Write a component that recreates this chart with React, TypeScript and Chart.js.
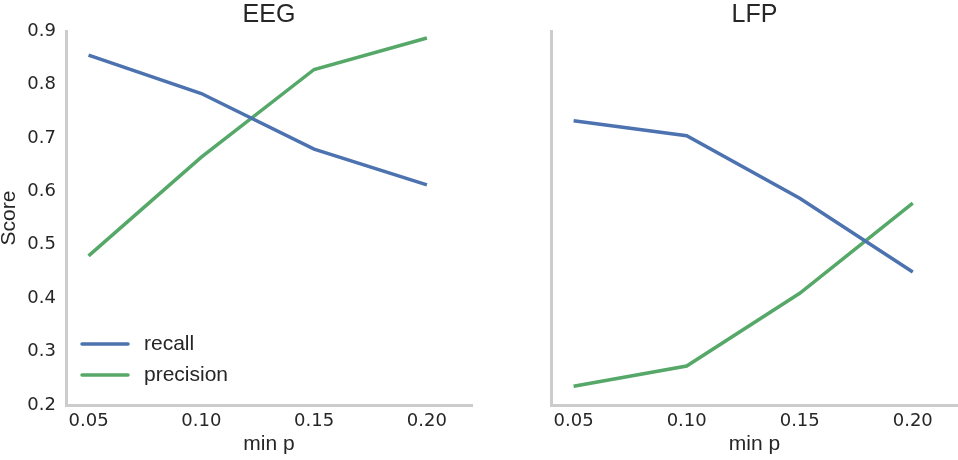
import React, { useEffect, useRef } from "react";
import { Chart, registerables } from "chart.js";

Chart.register(...registerables);

// Threshold values on the x axis
const minP = [0.05, 0.1, 0.15, 0.2];
const xTickValues = [0.05, 0.1, 0.15, 0.2];

// Scores per recording type
const eegRecall = [0.855, 0.783, 0.679, 0.612];
const eegPrecision = [0.479, 0.664, 0.828, 0.887];
const lfpRecall = [0.732, 0.704, 0.587, 0.449];
const lfpPrecision = [0.235, 0.273, 0.409, 0.578];

const seriesNames = ["recall", "precision"];

const BLUE = "#4C72B0";
const GREEN = "#55A868";
const TEXT = "#262626";
const SPINE = "#cccccc";
const TICK_FONT = "'DejaVu Sans', sans-serif";
const LABEL_FONT = "'Liberation Sans', Arial, sans-serif";

// Legend drawn inside the plot area, lower-left corner
const insetLegend = {
  id: "insetLegend",
  afterDatasetsDraw(chart: any, _args: any, opts: any) {
    if (!opts || !opts.display) return;
    const { ctx, chartArea } = chart;
    const items = chart.data.datasets;
    ctx.save();
    items.forEach((ds: any, i: number) => {
      const y = chartArea.bottom - opts.bottomOffset + i * opts.rowHeight;
      const x0 = chartArea.left + opts.lineStart;
      ctx.strokeStyle = ds.borderColor;
      ctx.lineWidth = 3.5;
      ctx.lineCap = "round";
      ctx.beginPath();
      ctx.moveTo(x0, y);
      ctx.lineTo(x0 + opts.lineLength, y);
      ctx.stroke();
      ctx.fillStyle = TEXT;
      ctx.font = `21px ${LABEL_FONT}`;
      ctx.textBaseline = "middle";
      ctx.textAlign = "left";
      ctx.fillText(ds.label, chartArea.left + opts.textStart, y);
    });
    ctx.restore();
  },
};

function toPoints(values: number[]) {
  return values.map((v, i) => ({ x: minP[i], y: v }));
}

type PanelProps = {
  title: string;
  recall: number[];
  precision: number[];
  showYAxis: boolean;
  showLegend: boolean;
  axisWidth: number;
  rightPad: number;
  width: number;
  left: number;
};

function Panel(props: PanelProps) {
  const ref = useRef<HTMLCanvasElement | null>(null);

  useEffect(() => {
    if (!ref.current) return;
    const chart = new Chart(ref.current, {
      type: "line",
      data: {
        datasets: [
          {
            label: seriesNames[0],
            data: toPoints(props.recall),
            borderColor: BLUE,
            backgroundColor: BLUE,
            borderWidth: 3.5,
            pointRadius: 0,
            tension: 0,
            fill: false,
          },
          {
            label: seriesNames[1],
            data: toPoints(props.precision),
            borderColor: GREEN,
            backgroundColor: GREEN,
            borderWidth: 3.5,
            pointRadius: 0,
            tension: 0,
            fill: false,
          },
        ],
      },
      options: {
        responsive: false,
        animation: false,
        devicePixelRatio: 1,
        layout: { padding: { left: 0, right: props.rightPad, top: 0, bottom: 0 } },
        plugins: {
          legend: { display: false },
          tooltip: { enabled: false },
          title: {
            display: true,
            text: props.title,
            fullSize: false,
            color: TEXT,
            font: { family: LABEL_FONT, size: 25, weight: "normal", lineHeight: 1.2 },
            padding: { top: 0, bottom: 1 },
          },
          insetLegend: {
            display: props.showLegend,
            bottomOffset: 61,
            rowHeight: 31,
            lineStart: 16,
            lineLength: 46,
            textStart: 78,
          },
        } as any,
        scales: {
          x: {
            type: "linear",
            position: "bottom",
            min: 0.04,
            max: 0.22,
            afterBuildTicks: (s: any) => {
              s.ticks = xTickValues.map((v) => ({ value: v }));
            },
            afterFit: (s: any) => {
              s.height = 55;
            },
            grid: { display: false, drawTicks: false },
            border: { display: true, color: SPINE, width: 3 },
            ticks: {
              color: TEXT,
              padding: 6,
              font: { family: TICK_FONT, size: 18 },
              maxRotation: 0,
              callback: (v: any) => Number(v).toFixed(2),
            },
            title: {
              display: true,
              text: "min p",
              color: TEXT,
              font: { family: LABEL_FONT, size: 21, lineHeight: 1.2 },
              padding: { top: 0, bottom: 3 },
            },
          },
          y: {
            type: "linear",
            position: "left",
            min: 0.2,
            max: 0.9,
            afterFit: (s: any) => {
              s.width = props.axisWidth;
            },
            grid: { display: false, drawTicks: false },
            border: { display: true, color: SPINE, width: 3 },
            ticks: {
              display: props.showYAxis,
              stepSize: 0.1,
              color: TEXT,
              padding: 10,
              font: { family: TICK_FONT, size: 18 },
              callback: (v: any) => Number(v).toFixed(1),
            },
            title: {
              display: props.showYAxis,
              text: "Score",
              color: TEXT,
              font: { family: LABEL_FONT, size: 21, lineHeight: 0.83 },
              padding: { top: 0, bottom: 0 },
            },
          },
        },
      },
      plugins: [insetLegend],
    } as any);
    return () => chart.destroy();
  }, []);

  return (
    <canvas
      ref={ref}
      width={props.width}
      height={460}
      style={{
        position: "absolute",
        left: props.left,
        top: 0,
        width: props.width,
        height: 460,
      }}
    />
  );
}

export default function App() {
  return (
    <div
      style={{
        position: "absolute",
        left: 0,
        top: 0,
        width: 958,
        height: 460,
        background: "#ffffff",
        overflow: "hidden",
      }}
    >
      <Panel
        title="EEG"
        recall={eegRecall}
        precision={eegPrecision}
        showYAxis={true}
        showLegend={true}
        axisWidth={66}
        rightPad={8}
        width={480}
        left={0}
      />
      <Panel
        title="LFP"
        recall={lfpRecall}
        precision={lfpPrecision}
        showYAxis={false}
        showLegend={false}
        axisWidth={71}
        rightPad={0}
        width={478}
        left={480}
      />
    </div>
  );
}
